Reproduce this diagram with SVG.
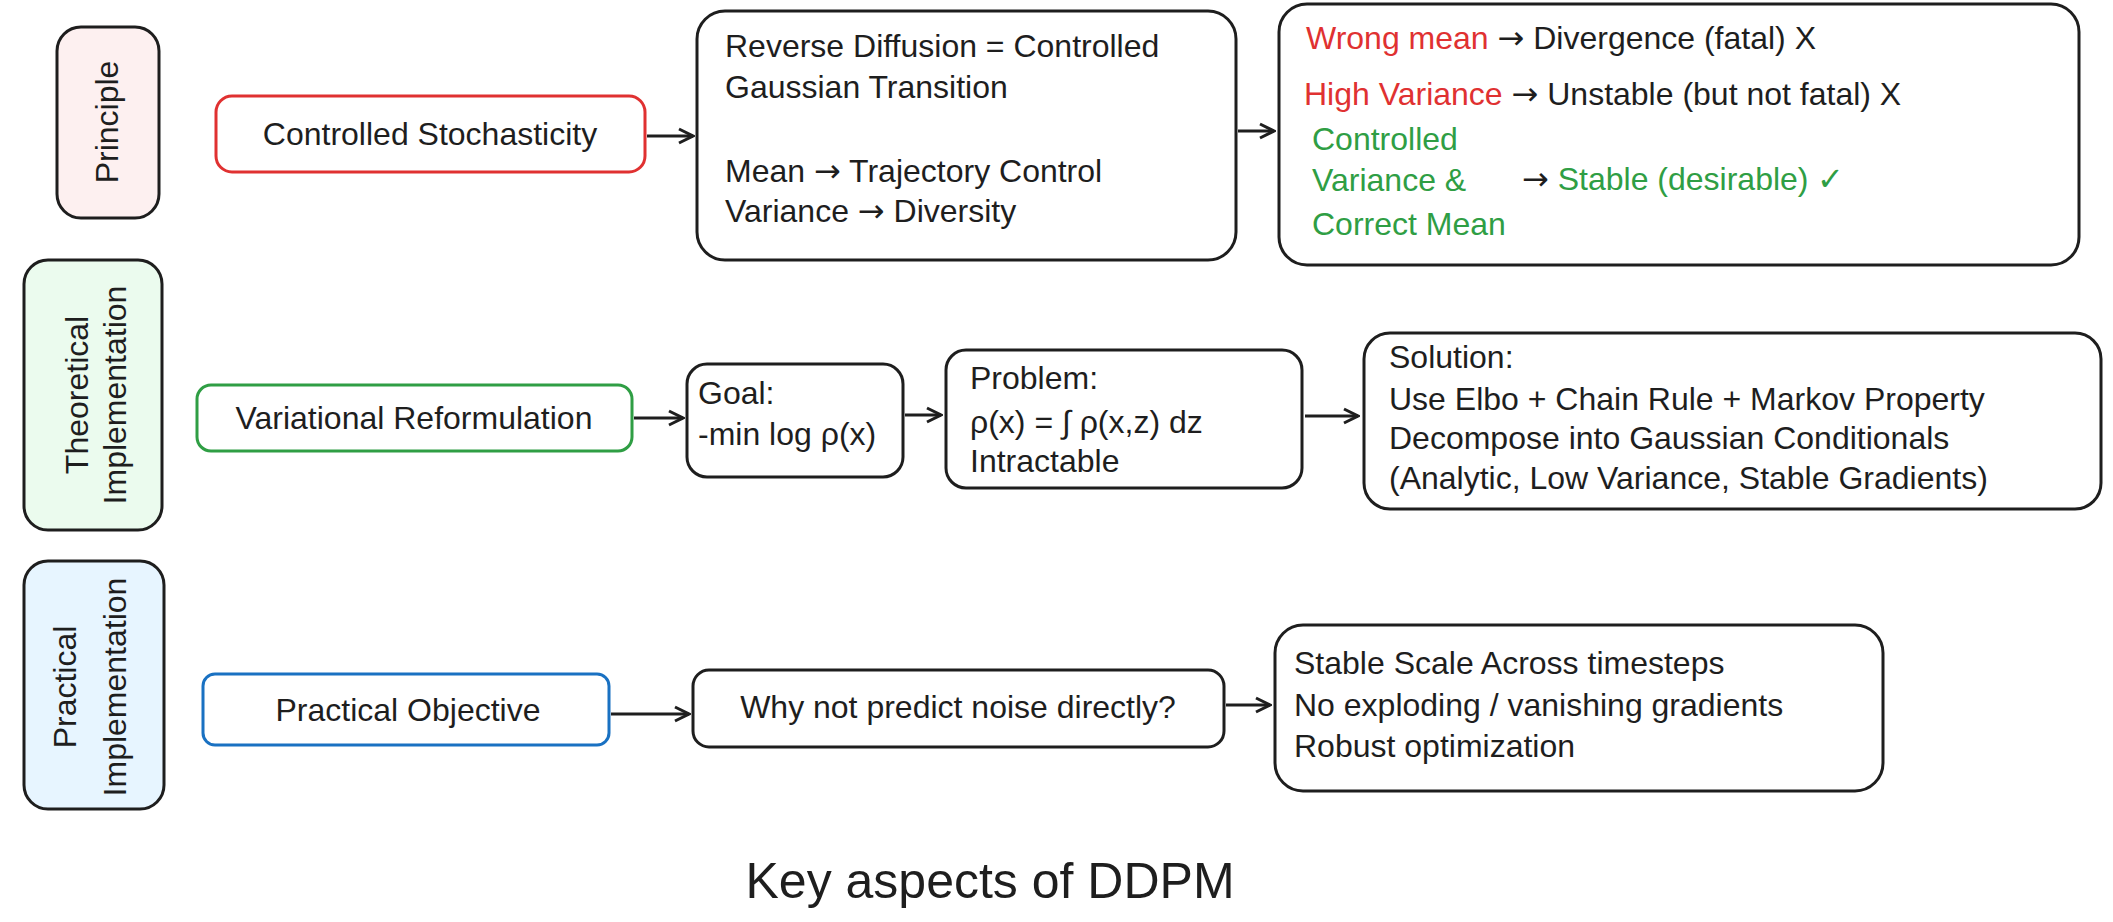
<svg xmlns="http://www.w3.org/2000/svg" width="2113" height="922" viewBox="0 0 2113 922">
<defs>
<style>
.b{fill:#fff;stroke:#1e1e1e;stroke-width:3}
.t{font-family:"Liberation Sans",Arial,sans-serif;font-size:32px;fill:#1e1e1e}
.r{fill:#e03131}.g{fill:#2f9e44}
.ar{font-family:"DejaVu Sans",sans-serif}
.c{stroke:#1e1e1e;stroke-width:3;fill:none}
</style>
<marker id="a" viewBox="0 0 20 20" refX="18" refY="10" markerWidth="20" markerHeight="20" markerUnits="userSpaceOnUse" orient="auto"><path d="M4 3 L18 10 L4 17" fill="none" stroke="#1e1e1e" stroke-width="3"/></marker>
</defs>
<rect width="2113" height="922" fill="#fff"/>
<g id="lane-principle"><rect x="57" y="27" width="102" height="191" rx="24" fill="#fdf0f0" stroke="#1e1e1e" stroke-width="3"/><text class="t" transform="translate(118,122) rotate(-90)" text-anchor="middle">Principle</text></g>
<g id="lane-theory"><rect x="24" y="260" width="138" height="270" rx="24" fill="#ebfbee" stroke="#1e1e1e" stroke-width="3"/><text class="t" transform="translate(88,395) rotate(-90)" text-anchor="middle">Theoretical</text><text class="t" transform="translate(126,395) rotate(-90)" text-anchor="middle">Implementation</text></g>
<g id="lane-practical"><rect x="24" y="561" width="140" height="248" rx="24" fill="#e7f5ff" stroke="#1e1e1e" stroke-width="3"/><text class="t" transform="translate(76,687) rotate(-90)" text-anchor="middle">Practical</text><text class="t" transform="translate(126,687) rotate(-90)" text-anchor="middle">Implementation</text></g>
<g id="n-stoch"><rect x="216" y="96" width="429" height="76" rx="16" fill="#fff" stroke="#e03131" stroke-width="3"/><text class="t" x="430" y="145" text-anchor="middle">Controlled Stochasticity</text></g>
<g id="n-reverse"><rect class="b" x="697" y="11" width="539" height="249" rx="28"/><text class="t" x="725" y="57">Reverse Diffusion = Controlled</text><text class="t" x="725" y="98">Gaussian Transition</text><text class="t" x="725" y="182">Mean <tspan class="ar">→</tspan>  Trajectory Control</text><text class="t" x="725" y="222">Variance <tspan class="ar">→</tspan>  Diversity</text></g>
<g id="n-outcomes"><rect class="b" x="1279" y="4" width="800" height="261" rx="28"/><text class="t" x="1306" y="49"><tspan class="r">Wrong mean</tspan> <tspan class="ar">→</tspan> Divergence (fatal) X</text><text class="t" x="1304" y="105"><tspan class="r">High Variance</tspan> <tspan class="ar">→</tspan> Unstable (but not fatal) X</text><text class="t g" x="1312" y="150">Controlled</text><text class="t g" x="1312" y="191">Variance &amp;</text><text class="t g" x="1312" y="235">Correct Mean</text><text class="t" x="1522" y="190"><tspan class="ar">→</tspan> <tspan class="g">Stable (desirable) ✓</tspan></text></g>
<g id="n-var"><rect x="197" y="385" width="435" height="66" rx="14" fill="#fff" stroke="#2f9e44" stroke-width="3"/><text class="t" x="414" y="429" text-anchor="middle">Variational Reformulation</text></g>
<g id="n-goal"><rect class="b" x="687" y="364" width="216" height="113" rx="20"/><text class="t" x="698" y="404">Goal:</text><text class="t" x="698" y="445">-min log ρ(x)</text></g>
<g id="n-problem"><rect class="b" x="946" y="350" width="356" height="138" rx="20"/><text class="t" x="970" y="389">Problem:</text><text class="t" x="970" y="433">ρ(x) = ∫ ρ(x,z) dz</text><text class="t" x="970" y="472">Intractable</text></g>
<g id="n-solution"><rect class="b" x="1364" y="333" width="737" height="176" rx="26"/><text class="t" x="1389" y="368">Solution:</text><text class="t" x="1389" y="410">Use Elbo + Chain Rule + Markov Property</text><text class="t" x="1389" y="449">Decompose into Gaussian Conditionals</text><text class="t" x="1389" y="489">(Analytic, Low Variance, Stable Gradients)</text></g>
<g id="n-objective"><rect x="203" y="674" width="406" height="71" rx="12" fill="#fff" stroke="#1971c2" stroke-width="3"/><text class="t" x="408" y="721" text-anchor="middle">Practical Objective</text></g>
<g id="n-why"><rect class="b" x="693" y="670" width="531" height="77" rx="16"/><text class="t" x="958" y="718" text-anchor="middle">Why not predict noise directly?</text></g>
<g id="n-stable"><rect class="b" x="1275" y="625" width="608" height="166" rx="28"/><text class="t" x="1294" y="674">Stable Scale Across timesteps</text><text class="t" x="1294" y="716">No exploding / vanishing gradients</text><text class="t" x="1294" y="757">Robust optimization</text></g>
<g id="title"><text class="t" x="990" y="898" text-anchor="middle" style="font-size:50px">Key aspects of DDPM</text></g>
<g id="connectors">
<line class="c" x1="647" y1="136" x2="693" y2="136" marker-end="url(#a)"/>
<line class="c" x1="1238" y1="131" x2="1274" y2="131" marker-end="url(#a)"/>
<line class="c" x1="634" y1="418" x2="683" y2="418" marker-end="url(#a)"/>
<line class="c" x1="905" y1="415" x2="941" y2="415" marker-end="url(#a)"/>
<line class="c" x1="1305" y1="416" x2="1358" y2="416" marker-end="url(#a)"/>
<line class="c" x1="611" y1="714" x2="689" y2="714" marker-end="url(#a)"/>
<line class="c" x1="1226" y1="705" x2="1270" y2="705" marker-end="url(#a)"/>
</g>
</svg>
